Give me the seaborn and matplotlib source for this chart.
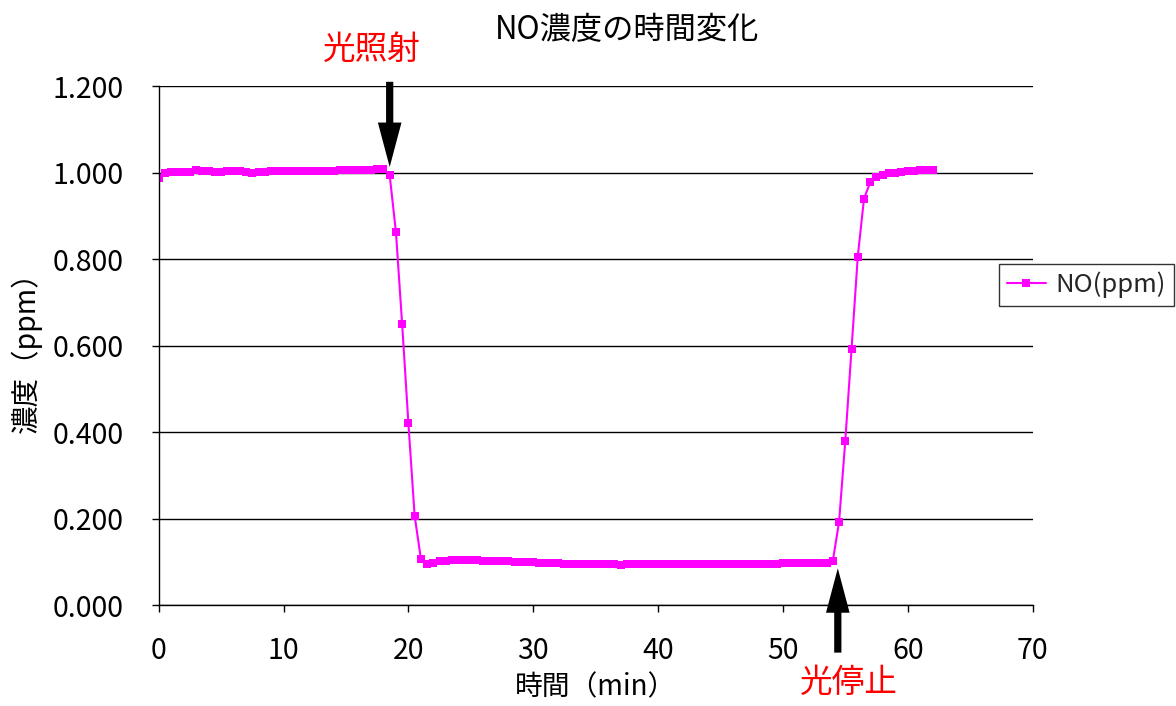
import matplotlib
matplotlib.use('Agg')
import matplotlib.pyplot as plt
import seaborn as sns
import pandas as pd

# sampling times (min)
time_min = [
    0.0, 0.5, 1.0, 1.5, 2.0, 2.5, 3.0, 3.5, 4.0, 4.5, 5.0, 5.5, 6.0, 6.5, 7.0, 7.5,
    8.0, 8.5, 9.0, 9.5, 10.0, 10.5, 11.0, 11.5, 12.0, 12.5, 13.0, 13.5, 14.0, 14.5,
    15.0, 15.5, 16.0, 16.5, 17.0, 17.5, 18.0, 18.5, 19.0, 19.5, 20.0, 20.5, 21.0,
    21.5, 22.0, 22.5, 23.0, 23.5, 24.0, 24.5, 25.0, 25.5, 26.0, 26.5, 27.0, 27.5,
    28.0, 28.5, 29.0, 29.5, 30.0, 30.5, 31.0, 31.5, 32.0, 32.5, 33.0, 33.5, 34.0,
    34.5, 35.0, 35.5, 36.0, 36.5, 37.0, 37.5, 38.0, 38.5, 39.0, 39.5, 40.0, 40.5,
    41.0, 41.5, 42.0, 42.5, 43.0, 43.5, 44.0, 44.5, 45.0, 45.5, 46.0, 46.5, 47.0,
    47.5, 48.0, 48.5, 49.0, 49.5, 50.0, 50.5, 51.0, 51.5, 52.0, 52.5, 53.0, 53.5,
    54.0, 54.5, 55.0, 55.5, 56.0, 56.5, 57.0, 57.5, 58.0, 58.5, 59.0, 59.5, 60.0,
    60.5, 61.0, 61.5, 62.0,
]

# NO concentration (ppm)
no_ppm = [
    0.987, 0.999, 1.001, 1.002, 1.002, 1.002, 1.006, 1.004, 1.003, 1.002, 1.002, 1.003,
    1.003, 1.003, 1.001, 1.000, 1.001, 1.001, 1.003, 1.003, 1.003, 1.003, 1.003, 1.003,
    1.003, 1.004, 1.004, 1.004, 1.004, 1.006, 1.006, 1.007, 1.007, 1.007, 1.007, 1.008,
    1.008, 0.994, 0.863, 0.649, 0.420, 0.206, 0.107, 0.095, 0.098, 0.101, 0.103, 0.104,
    0.105, 0.105, 0.105, 0.104, 0.103, 0.103, 0.102, 0.101, 0.101, 0.100, 0.100, 0.099,
    0.099, 0.098, 0.098, 0.097, 0.097, 0.096, 0.096, 0.096, 0.096, 0.096, 0.096, 0.096,
    0.096, 0.095, 0.092, 0.095, 0.096, 0.096, 0.096, 0.096, 0.096, 0.096, 0.096, 0.096,
    0.096, 0.096, 0.096, 0.096, 0.096, 0.096, 0.096, 0.096, 0.096, 0.096, 0.096, 0.096,
    0.096, 0.096, 0.096, 0.096, 0.097, 0.097, 0.098, 0.098, 0.098, 0.098, 0.097, 0.098,
    0.102, 0.192, 0.380, 0.592, 0.806, 0.940, 0.978, 0.991, 0.995, 0.998, 1.000, 1.001,
    1.003, 1.004, 1.005, 1.006, 1.006,
]

y_ticks = [0, 0.2, 0.4, 0.6, 0.8, 1.0, 1.2]

df = pd.DataFrame({"time": time_min, "NO(ppm)": no_ppm})

sns.set_style("white")
plt.rcParams['font.family'] = ['Noto Sans CJK JP', 'DejaVu Sans']

fig = plt.figure(figsize=(11.76, 7.06), dpi=100)
ax = fig.add_axes([0.135, 0.143, 0.743, 0.735])

sns.lineplot(data=df, x="time", y="NO(ppm)", ax=ax, color="#FF00FF",
             marker="s", markersize=5.5, markeredgewidth=0, linewidth=1.5,
             label="NO(ppm)")

ax.set_xlim(0, 70)
ax.set_ylim(0, 1.2)
ax.set_xticks(range(0, 71, 10))
ax.set_yticks(y_ticks)
ax.set_yticklabels([f"{v:.3f}" for v in y_ticks])
ax.tick_params(axis="both", labelsize=20.5, direction="out", length=5, width=1,
               color="black", left=True, bottom=True, labelcolor="black")
ax.tick_params(axis="x", pad=17)
ax.tick_params(axis="y", pad=20)
ax.grid(axis="y", color="black", linewidth=1)
ax.set_axisbelow(True)

for s in ["top", "right"]:
    ax.spines[s].set_visible(False)
for s in ["left", "bottom"]:
    ax.spines[s].set_color("black")
    ax.spines[s].set_linewidth(1)

# title is centred over the whole chart area (incl. legend), like Excel
fig.text(0.533, 0.957, "NO濃度の時間変化", fontsize=22.5, ha="center", va="center",
         color="black")
ax.set_xlabel("時間（min）", fontsize=20, labelpad=5, color="black")
ax.set_ylabel("濃度（ppm）", fontsize=20.5, labelpad=8, color="black")

# annotations
arrow_style = "simple,head_length=1.6,head_width=0.85,tail_width=0.26"
ax.annotate("", xy=(18.5, 1.013), xytext=(18.5, 1.21),
            arrowprops=dict(arrowstyle=arrow_style, color="black", linewidth=0,
                            mutation_scale=20, shrinkA=0, shrinkB=0),
            annotation_clip=False)
ax.text(17.05, 1.283, "光照射", color="red", fontsize=23.5, ha="center", va="center",
        clip_on=False)
ax.annotate("", xy=(54.4, 0.085), xytext=(54.4, -0.11),
            arrowprops=dict(arrowstyle=arrow_style, color="black", linewidth=0,
                            mutation_scale=20, shrinkA=0, shrinkB=0),
            annotation_clip=False)
ax.text(55.3, -0.18, "光停止", color="red", fontsize=23.5, ha="center", va="center",
        clip_on=False)

leg = ax.legend(loc="center left", bbox_to_anchor=(0.962, 0.617), fontsize=18.5,
                frameon=True, fancybox=False, handlelength=1.5, borderpad=0.3,
                handletextpad=0.4, borderaxespad=0)
leg.get_frame().set_edgecolor("black")
leg.get_frame().set_linewidth(1)

fig.savefig("out.png", dpi=100)
